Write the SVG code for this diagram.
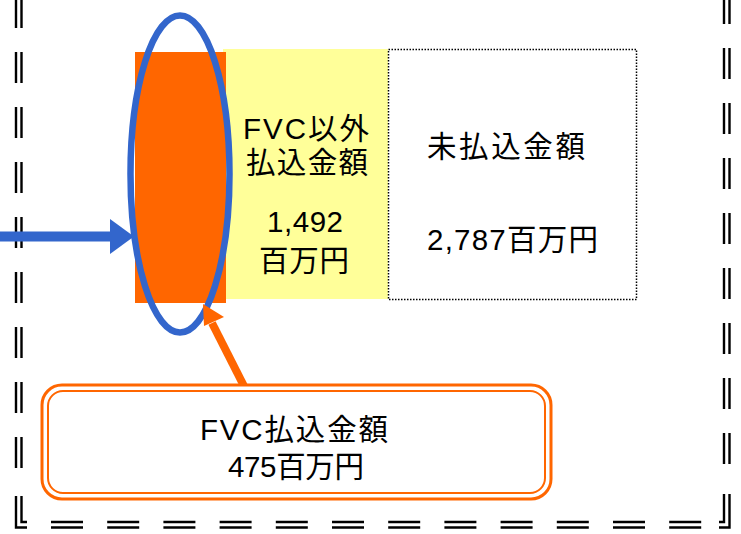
<svg xmlns="http://www.w3.org/2000/svg" width="741" height="534" viewBox="0 0 741 534">
<defs>
<style>
.frame{fill:none;stroke:#000;stroke-width:2.4}
.vd1{stroke-dasharray:31 24}
.hd{stroke-dasharray:32 24.2}
.t{font-family:"Liberation Sans","Noto Sans CJK JP",sans-serif;font-size:29.5px;fill:#000}
</style>
</defs>
<rect width="741" height="534" fill="#fff"/>
<g id="frame">
<line class="frame vd1" x1="16" y1="-3" x2="16" y2="470"/>
<line class="frame vd1" x1="21.5" y1="-3" x2="21.5" y2="470"/>
<line class="frame vd1" x1="724" y1="-7" x2="724" y2="466"/>
<line class="frame vd1" x1="729.5" y1="-7" x2="729.5" y2="466"/>
<line class="frame hd" x1="51" y1="522" x2="703" y2="522"/>
<line class="frame hd" x1="51" y1="527.5" x2="703" y2="527.5"/>
<polyline class="frame" points="16,496 16,527.5 27,527.5"/>
<polyline class="frame" points="21.5,496 21.5,522 27,522"/>
<polyline class="frame" points="729.5,494 729.5,527.5 719,527.5"/>
<polyline class="frame" points="724,494 724,522 719,522"/>
</g>
<g id="yellow-box">
<rect x="223" y="49" width="165" height="250" fill="#FFFF99"/>
<text class="t" x="243" y="139" textLength="126" lengthAdjust="spacing">FVC以外</text>
<text class="t" x="246" y="173" textLength="122" lengthAdjust="spacing">払込金額</text>
<text class="t" x="267" y="232" textLength="76" lengthAdjust="spacing">1,492</text>
<text class="t" x="259" y="271" textLength="90" lengthAdjust="spacing">百万円</text>
</g>
<g id="unpaid-box">
<rect x="388.5" y="49.5" width="248" height="250" fill="#fff" stroke="#000" stroke-width="1.5" stroke-dasharray="1.5 1.5"/>
<text class="t" x="427" y="157" textLength="158" lengthAdjust="spacing">未払込金額</text>
<text class="t" x="427" y="250" textLength="171" lengthAdjust="spacing">2,787百万円</text>
</g>
<g id="fvc-bar">
<rect x="135" y="52" width="91" height="251" fill="#FF6600"/>
</g>
<g id="connectors">
<g id="blue-arrow" fill="#3366CC">
<rect x="-2" y="231.5" width="114" height="10"/>
<polygon points="110,219 134,236.5 110,254"/>
</g>
</g>
<g id="highlight-ellipse">
<ellipse cx="180" cy="174" rx="49.5" ry="158.5" fill="none" stroke="#3366CC" stroke-width="6.5"/>
</g>
<g id="connectors-top">
<g id="orange-arrow" fill="#FF6600" stroke="none">
<line x1="248" y1="394" x2="212" y2="323" stroke="#FF6600" stroke-width="8"/>
<polygon points="203,304 224,317 204,326"/>
</g>
</g>
<g id="fvc-callout">
<rect x="42" y="385" width="509" height="114" rx="20" fill="#fff" stroke="#FF6600" stroke-width="3"/>
<rect x="48" y="391" width="497" height="102" rx="15" fill="none" stroke="#FF6600" stroke-width="2"/>
<text class="t" x="200" y="440" textLength="188" lengthAdjust="spacing">FVC払込金額</text>
<text class="t" x="228" y="477" textLength="136" lengthAdjust="spacing">475百万円</text>
</g>
</svg>
